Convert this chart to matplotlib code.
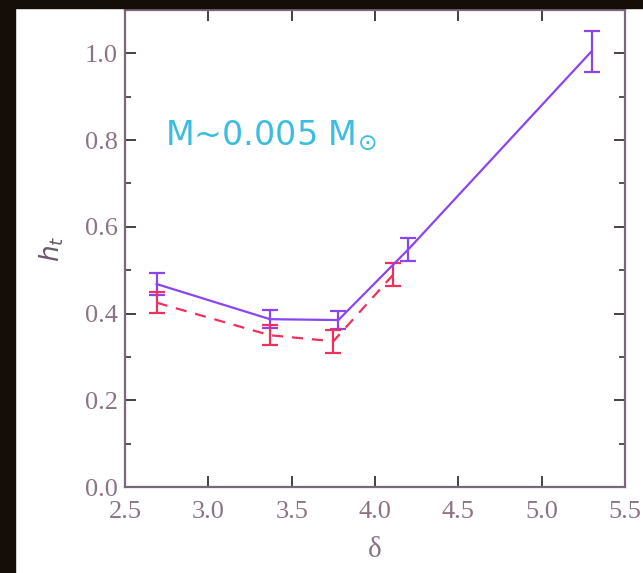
import matplotlib
matplotlib.use("Agg")
import matplotlib.pyplot as plt
from matplotlib.ticker import MultipleLocator

# data
x_solid = [2.69, 3.37, 3.78, 4.20, 5.30]
y_solid = [0.468, 0.387, 0.385, 0.548, 1.005]
e_solid = [0.025, 0.021, 0.020, 0.027, 0.047]

x_dash = [2.69, 3.37, 3.75, 4.11]
y_dash = [0.425, 0.350, 0.336, 0.490]
e_dash = [0.024, 0.023, 0.026, 0.026]

xticks = [2.5, 3.0, 3.5, 4.0, 4.5, 5.0, 5.5]
yticks = [0.0, 0.2, 0.4, 0.6, 0.8, 1.0]

W, H = 643, 573
fig = plt.figure(figsize=(W/100, H/100), dpi=100)
fig.patch.set_facecolor('white')
# black frame strips
fig.patches.append(plt.Rectangle((0, 0), 15/W, 1, transform=fig.transFigure, color='#140d08', zorder=0))
fig.patches.append(plt.Rectangle((0, 1-8/H), 1, 8/H, transform=fig.transFigure, color='#140d08', zorder=0))

ax = fig.add_axes([125/W, 1-487/H, 500/W, 477/H])
ax.set_xlim(2.5, 5.5)
ax.set_ylim(0.0, 1.1)

spc = '#7a6878'
for s in ax.spines.values():
    s.set_color(spc)
    s.set_linewidth(1.6)

purple = '#8b45f0'
red = '#f0305a'
ax.errorbar(x_solid, y_solid, yerr=e_solid, color=purple, lw=1.6, capsize=6,
            elinewidth=1.6, capthick=1.6)
ax.errorbar(x_dash, y_dash, yerr=e_dash, color=red, lw=1.6, ls=(0, (5, 4)),
            capsize=6, elinewidth=1.6, capthick=1.6)

ax.set_xticks(xticks)
ax.set_yticks(yticks)
ax.set_xticklabels([f"{v:.1f}" for v in xticks])
ax.set_yticklabels([f"{v:.1f}" for v in yticks])
ax.yaxis.set_minor_locator(MultipleLocator(0.1))
ax.tick_params(which='both', direction='in', top=True, right=True, color='#3a3038')
ax.tick_params(which='major', length=8, width=1.3)
ax.tick_params(which='minor', length=4, width=1.2)
ax.tick_params(axis='x', which='minor', bottom=False, top=False)
for lab in ax.get_xticklabels() + ax.get_yticklabels():
    lab.set_fontfamily('Liberation Serif')
    lab.set_fontsize(19)
    lab.set_color('#8a7484')
ax.tick_params(axis='x', pad=10)
ax.tick_params(axis='y', pad=5)

ax.set_xlabel('δ', family='Liberation Serif', fontsize=21, color='#8a7484', labelpad=10)
ax.set_ylabel(r'$h_t$', fontsize=19, color='#6a5868', labelpad=14)

ax.text(2.74, 0.81, r'M~0.005 M$_{\odot}$', color='#3bbde0', fontsize=24,
        family='DejaVu Sans', va='center', ha='left')

fig.savefig('out.png', dpi=100)
